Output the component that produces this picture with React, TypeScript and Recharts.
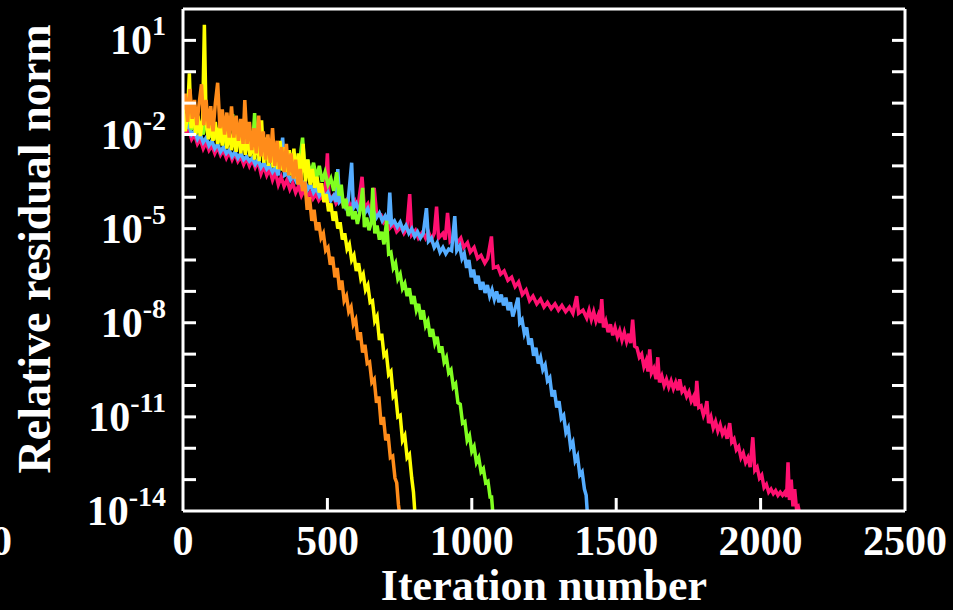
import React from 'react';
import { LineChart, Line, XAxis, YAxis } from 'recharts';

// [iteration, log10 of relative residual norm]
const pinkPts: [number, number][] = [
  [0, -1.6], [10, -1.9], [20, -1.85], [30, -2.15], [40, -2.0], [50, -2.3], [60, -2.15], [70, -2.45], [80, -2.25], [90, -2.5],
  [100, -2.35], [110, -2.6], [120, -2.4], [130, -2.65], [140, -2.5], [150, -2.75], [160, -2.55], [170, -2.8], [180, -2.6], [190, -2.85],
  [200, -2.7], [210, -2.95], [220, -2.75], [230, -3.0], [240, -2.8], [250, -3.05], [260, -2.85], [270, -3.25], [280, -3.0], [290, -3.3],
  [300, -3.1], [310, -3.45], [320, -3.2], [330, -3.6], [340, -3.35], [350, -3.65], [360, -3.45], [370, -3.75], [380, -3.55], [390, -3.85],
  [400, -3.65], [410, -3.95], [420, -3.75], [430, -4.0], [440, -3.85], [450, -4.05], [460, -3.9], [470, -4.1], [480, -3.95], [490, -4.15],
  [500, -2.6], [506, -4.1], [520, -3.95], [530, -4.2], [545, -4.0], [555, -4.25], [570, -4.05], [580, -4.3], [595, -4.1], [605, -4.35],
  [620, -3.35], [628, -4.35], [640, -4.2], [650, -4.5], [662, -3.7], [670, -4.5], [685, -4.55], [695, -4.8], [705, -4.7], [715, -5.0],
  [730, -4.85], [740, -5.1], [755, -4.95], [765, -5.15], [775, -5.0], [785, -3.9], [792, -5.2], [805, -5.05], [815, -5.3], [830, -5.1],
  [840, -5.3], [850, -5.1], [860, -5.35], [870, -5.15], [878, -4.3], [885, -5.3], [900, -5.15], [908, -5.35], [916, -4.5], [925, -5.4],
  [940, -5.25], [950, -5.45], [962, -5.3], [972, -5.6], [985, -5.45], [995, -5.75], [1008, -5.6], [1020, -5.95], [1032, -5.85], [1045, -6.1],
  [1055, -5.95], [1068, -5.25], [1075, -6.25], [1090, -6.2], [1100, -6.45], [1112, -6.35], [1125, -6.65], [1138, -6.55], [1150, -6.85], [1162, -6.7],
  [1175, -7.1], [1188, -6.95], [1200, -7.3], [1212, -7.15], [1225, -7.4], [1238, -7.25], [1250, -7.5], [1262, -7.35], [1275, -7.55], [1288, -7.4],
  [1300, -7.6], [1312, -7.45], [1325, -7.65], [1338, -7.5], [1350, -7.7], [1363, -7.15], [1370, -7.7], [1385, -7.6],
  [1398, -7.85], [1406, -7.6], [1414, -7.9], [1422, -7.65], [1430, -7.95], [1438, -7.75], [1444, -8.0], [1450, -7.25], [1456, -8.15], [1464, -7.95],
  [1472, -8.3], [1480, -8.05], [1488, -8.4], [1496, -8.15], [1504, -8.45], [1512, -8.25], [1520, -8.55], [1528, -8.3], [1536, -8.6], [1544, -8.35],
  [1550, -8.65], [1557, -7.9], [1564, -8.75], [1572, -8.8], [1580, -9.1], [1588, -9.0], [1596, -9.4], [1604, -9.2], [1610, -9.55], [1616, -8.85],
  [1622, -9.6], [1630, -9.45], [1638, -9.8], [1644, -9.1], [1650, -9.9], [1658, -9.7], [1666, -10.0], [1674, -9.8], [1682, -10.05], [1690, -9.85],
  [1698, -10.1], [1706, -9.9], [1714, -10.15], [1720, -9.8], [1728, -10.2], [1736, -10.1], [1744, -10.35], [1752, -10.2], [1760, -10.5], [1768, -10.35],
  [1774, -10.65], [1779, -9.85], [1786, -10.7], [1794, -10.65], [1802, -10.95], [1808, -10.8], [1814, -10.5], [1820, -11.2], [1828, -11.0], [1836, -11.35],
  [1844, -11.15], [1852, -11.45], [1860, -11.25], [1868, -11.55], [1876, -11.4], [1884, -11.7], [1893, -11.2], [1900, -11.8], [1908, -11.7], [1916, -12.05],
  [1924, -11.95], [1932, -12.3], [1940, -12.15], [1948, -12.45], [1956, -12.3], [1964, -12.6], [1973, -11.65], [1980, -12.7], [1988, -12.6], [1996, -12.95],
  [2004, -12.85], [2012, -13.25], [2020, -13.15], [2028, -13.4], [2036, -13.3], [2044, -13.45], [2052, -13.35], [2060, -13.5], [2068, -13.4], [2076, -13.5],
  [2084, -13.4], [2090, -13.55], [2095, -12.45], [2100, -13.65], [2106, -13.0], [2112, -13.85], [2118, -13.3], [2124, -13.9], [2130, -13.85], [2138, -14.2],
];

const bluePts: [number, number][] = [
  [0, -1.5], [10, -1.8], [20, -1.7], [30, -2.0], [40, -1.9], [50, -2.15], [60, -2.0], [70, -2.25], [80, -2.1], [90, -2.35],
  [100, -2.2], [110, -2.45], [120, -2.3], [130, -2.55], [140, -2.4], [150, -2.6], [160, -2.5], [170, -2.7], [180, -2.55], [190, -2.75],
  [200, -2.6], [210, -2.8], [220, -2.7], [230, -2.85], [240, -2.75], [250, -2.95], [260, -2.8], [270, -3.05], [280, -2.9], [290, -3.1],
  [300, -3.0], [310, -3.2], [320, -3.05], [330, -3.3], [345, -2.1], [352, -3.3], [362, -3.25], [372, -3.45], [382, -3.3], [392, -3.5],
  [402, -3.4], [412, -3.65], [422, -3.5], [432, -3.75], [442, -3.6], [452, -3.85], [462, -3.7], [472, -3.95], [482, -3.8], [492, -4.0],
  [502, -3.85], [512, -4.1], [522, -3.95], [530, -4.15], [536, -3.1], [542, -4.15], [552, -4.05], [562, -4.3], [572, -4.1], [584, -2.9],
  [590, -4.35], [600, -4.2], [610, -4.45], [620, -4.3], [630, -4.5], [640, -4.35], [650, -4.6], [660, -4.45], [670, -4.65], [680, -4.5],
  [690, -4.75], [700, -4.6], [710, -4.85], [716, -3.85], [722, -4.85], [732, -4.75], [742, -4.95], [752, -4.8], [762, -5.05], [772, -4.9],
  [782, -5.15], [792, -5.0], [802, -5.25], [812, -5.1], [822, -5.3], [832, -5.15], [843, -4.35], [850, -5.4], [860, -5.3], [870, -5.6],
  [880, -5.45], [890, -5.75], [900, -5.6], [910, -5.8], [920, -5.65], [930, -5.7], [941, -4.6], [948, -5.7],
  [958, -5.55], [966, -5.95], [974, -5.8], [982, -6.25], [990, -6.0], [998, -6.55], [1006, -6.3], [1014, -6.75], [1022, -6.5], [1030, -6.95],
  [1038, -6.7], [1046, -7.05], [1054, -6.8], [1062, -7.15], [1070, -6.95], [1078, -7.25], [1086, -7.0], [1094, -7.35], [1102, -7.1], [1110, -7.45],
  [1118, -7.2], [1126, -7.6], [1134, -7.35], [1142, -7.8], [1150, -7.55], [1160, -7.2], [1166, -8.0], [1174, -7.9], [1182, -8.35], [1190, -8.15],
  [1198, -8.7], [1206, -8.5], [1214, -9.05], [1222, -8.8], [1230, -9.3], [1238, -9.1], [1246, -9.5], [1254, -9.35], [1262, -9.85], [1270, -9.75],
  [1278, -10.35], [1286, -10.15], [1294, -10.7], [1302, -10.5], [1310, -11.05], [1318, -10.95], [1326, -11.5], [1334, -11.35], [1342, -11.95], [1350, -11.8],
  [1358, -12.4], [1366, -12.25], [1374, -12.85], [1382, -12.75], [1390, -13.3], [1396, -13.5], [1401, -14.2],
];

const greenPts: [number, number][] = [
  [0, -1.3], [10, -1.7], [20, -1.45], [30, -1.85], [40, -1.5], [50, -1.95], [60, -1.6], [70, -2.0], [80, -1.55], [90, -2.1],
  [100, -1.7], [110, -2.15], [120, -1.8], [130, -2.25], [140, -1.75], [150, -2.35], [160, -1.9], [172, -1.35], [180, -2.4], [190, -2.0],
  [200, -2.45], [210, -2.05], [220, -2.5], [230, -2.1], [240, -2.55], [248, -1.32], [256, -2.6], [266, -2.2], [276, -2.65], [286, -2.3],
  [296, -2.7], [306, -2.35], [316, -2.8], [326, -2.4], [336, -2.85], [346, -2.5], [356, -2.9], [366, -2.55], [376, -3.0], [386, -2.6],
  [396, -3.1], [406, -2.7], [414, -2.1], [422, -3.2], [432, -2.8], [442, -3.3], [452, -2.9], [462, -3.4], [472, -3.0], [482, -3.5],
  [492, -3.2], [502, -3.6], [512, -3.4], [522, -3.8], [532, -3.2],
  [540, -3.95], [548, -3.6], [556, -4.35], [564, -4.05], [572, -4.6], [580, -4.3], [588, -4.7], [596, -4.45], [604, -4.85], [612, -4.5],
  [622, -3.7], [628, -4.95], [636, -4.65], [644, -5.05], [652, -4.8], [657, -3.7], [664, -5.15], [672, -4.9], [680, -5.35], [688, -5.1],
  [696, -5.5], [705, -4.75], [712, -5.8], [720, -5.75], [728, -6.25], [736, -6.1], [744, -6.6], [752, -6.45], [760, -6.9], [768, -6.75],
  [776, -7.15], [784, -6.9], [792, -7.4], [800, -7.15], [808, -7.6], [816, -7.4], [824, -7.9], [832, -7.6], [840, -8.1], [848, -7.95],
  [856, -8.45], [864, -8.2], [872, -8.65], [880, -8.45], [888, -8.95], [896, -8.75], [904, -9.25], [912, -9.1], [920, -9.6], [928, -9.5],
  [936, -10.05], [944, -9.95], [952, -10.55], [960, -10.6], [968, -11.2], [976, -11.15], [984, -11.75], [992, -11.6], [1000, -12.1], [1008, -11.95],
  [1016, -12.45], [1024, -12.3], [1032, -12.75], [1040, -12.65], [1048, -13.1], [1056, -13.05], [1064, -13.6], [1068, -13.5], [1074, -14.2],
];

const yellowPts: [number, number][] = [
  [0, -1.0], [8, -1.9], [16, -1.3], [22, -0.05], [28, -1.8], [36, -1.2], [44, -2.0], [52, -1.4], [60, -2.05], [68, -1.5],
  [74, 1.5], [80, -1.6], [88, -2.15], [96, -1.5], [104, -2.2], [112, -1.6], [120, -2.3], [128, -1.7], [136, -2.35], [144, -1.6],
  [152, -2.45], [160, -1.8], [168, -2.5], [176, -1.9], [184, -2.55], [192, -1.7], [200, -2.6], [208, -2.0], [216, -2.65], [224, -1.9],
  [232, -2.7], [240, -2.1], [248, -2.8], [256, -2.0], [264, -2.85], [272, -1.55], [280, -2.9], [288, -2.1], [296, -3.0], [304, -2.2],
  [312, -3.05], [320, -2.3], [328, -3.1], [336, -2.2], [344, -3.15], [352, -2.4], [360, -3.2], [368, -2.5], [376, -3.3], [384, -2.45],
  [392, -3.4], [400, -2.6], [408, -3.45], [416, -2.3], [424, -3.5], [432, -2.8],
  [440, -3.6], [448, -3.1], [456, -3.7], [464, -3.35], [472, -3.85], [480, -3.55], [488, -4.15], [496, -3.9], [504, -4.45], [512, -4.2],
  [520, -4.75], [528, -4.45], [536, -5.0], [544, -4.8], [552, -5.35], [560, -5.15], [568, -5.65], [576, -5.5], [584, -6.0], [592, -5.85],
  [600, -6.35], [608, -6.1], [616, -6.6], [624, -6.45], [632, -6.95], [640, -6.8], [648, -7.35], [656, -7.3], [664, -7.95], [672, -7.8],
  [680, -8.55], [688, -8.35], [696, -9.05], [704, -8.95], [712, -9.65], [720, -9.55], [728, -10.35], [736, -10.25], [744, -11.0], [752, -10.95],
  [760, -11.75], [768, -11.6], [776, -12.3], [784, -12.2], [792, -12.95], [798, -13.4], [804, -14.2],
];

const orangePts: [number, number][] = [
  [0, -1.2], [8, -0.7], [16, -1.6], [24, -0.55], [32, -1.5], [40, -0.9], [48, -1.7], [56, -1.0], [64, -0.4], [72, -1.7],
  [80, -0.9], [88, -1.8], [96, -1.1], [104, -1.9], [112, -1.0], [120, -0.35], [128, -1.8], [136, -1.2], [144, -2.0], [152, -1.3],
  [160, -2.1], [168, -1.1], [176, -2.1], [184, -1.4], [192, -2.2], [200, -1.5], [208, -2.3], [214, -0.9], [222, -2.3], [230, -1.6],
  [238, -2.5], [246, -1.8], [254, -2.6], [262, -1.4], [270, -2.7], [278, -1.9], [286, -2.8], [294, -2.0], [302, -2.9], [310, -1.8],
  [318, -3.0], [326, -2.2], [334, -3.1], [342, -2.4], [350, -3.2], [358, -2.3], [366, -3.3], [374, -2.6], [382, -3.4], [390, -2.8],
  [398, -3.6],
  [406, -3.1], [414, -3.8], [422, -3.5], [430, -4.4], [438, -4.0], [446, -4.75], [454, -4.4], [462, -5.05], [470, -4.8], [478, -5.3],
  [486, -5.15], [494, -5.7], [502, -5.6], [510, -6.15], [518, -5.9], [526, -6.55], [534, -6.25], [542, -6.95], [550, -6.65], [558, -7.3],
  [566, -7.15], [574, -7.65], [582, -7.5], [590, -8.05], [598, -7.9], [606, -8.55], [614, -8.3], [622, -8.95], [630, -8.7], [638, -9.3],
  [646, -9.25], [654, -9.9], [662, -9.8], [670, -10.55], [678, -10.35], [686, -11.25], [694, -11.0], [702, -11.75], [710, -11.55], [718, -12.3],
  [726, -12.25], [734, -12.95], [740, -13.1], [746, -13.8], [752, -14.2],
];

const xTicks = [0, 500, 1000, 1500, 2000, 2500];
const xInnerTicks = [500, 1000, 1500, 2000];
const yExps = [-14, -13, -12, -11, -10, -9, -8, -7, -6, -5, -4, -3, -2, -1, 0, 1];
const yLabelExps = [-14, -11, -8, -5, -2, 1];

const FONT = '"Liberation Serif", "Times New Roman", serif';
const WHITE = '#ffffff';
const TICK_LEN = 13;

const yTicks = yExps.map((e) => Math.pow(10, e));
const toRows = (pts: [number, number][]) => pts.map(([x, e]) => ({ x, y: Math.pow(10, e) }));

const series = [
  { name: 'pink', color: '#ff1070', pts: pinkPts },
  { name: 'blue', color: '#55adff', pts: bluePts },
  { name: 'green', color: '#80ff20', pts: greenPts },
  { name: 'yellow', color: '#ffff00', pts: yellowPts },
  { name: 'orange', color: '#ff8c1a', pts: orangePts },
];

const LeftTick = (p: any) => {
  const e = Math.round(Math.log10(p.payload.value));
  return (
    <g>
      {e > -14 && <line x1={p.x} x2={p.x + TICK_LEN} y1={p.y} y2={p.y} stroke={WHITE} strokeWidth={3} />}
      {yLabelExps.includes(e) && (
        <text x={p.x - 17} y={p.y + 14} textAnchor="end" fill={WHITE} fontFamily={FONT} fontWeight="bold" fontSize={42}>
          10
          <tspan dy={-19} fontSize={28}>{String(e)}</tspan>
        </text>
      )}
    </g>
  );
};

const RightTick = (p: any) => {
  const e = Math.round(Math.log10(p.payload.value));
  if (e <= -14) return <g />;
  return <line x1={p.x - TICK_LEN} x2={p.x} y1={p.y} y2={p.y} stroke={WHITE} strokeWidth={3} />;
};

const BottomTick = (p: any) => {
  const v = p.payload.value;
  return (
    <g>
      {xInnerTicks.includes(v) && <line x1={p.x} x2={p.x} y1={p.y} y2={p.y - TICK_LEN} stroke={WHITE} strokeWidth={3} />}
      <text x={p.x} y={p.y + 44} textAnchor="middle" fill={WHITE} fontFamily={FONT} fontWeight="bold" fontSize={42}>
        {String(v)}
      </text>
    </g>
  );
};

const TopTick = (p: any) => (
  <line x1={p.x} x2={p.x} y1={p.y} y2={p.y + TICK_LEN} stroke={WHITE} strokeWidth={3} />
);

const YTitle = (props: any) => {
  const vb = props.viewBox || { x: 0, y: 9, width: 183, height: 502 };
  const cx = vb.x + 50;
  const cy = vb.y + vb.height / 2 - 11;
  return (
    <g>
      <text x={cx} y={cy} transform={`rotate(-90 ${cx} ${cy})`} textAnchor="middle" fill={WHITE} fontFamily={FONT} fontWeight="bold" fontSize={46}>
        Relative residual norm
      </text>
      {/* tick label of a neighbouring panel, cut by the left edge */}
      <text x={vb.x + 12} y={vb.y + vb.height + 44} textAnchor="end" fill={WHITE} fontFamily={FONT} fontWeight="bold" fontSize={42}>
        2500
      </text>
    </g>
  );
};

const XTitle = (props: any) => {
  const vb = props.viewBox || { x: 183, y: 511, width: 722, height: 99 };
  return (
    <text x={vb.x + vb.width / 2} y={vb.y + 89} textAnchor="middle" fill={WHITE} fontFamily={FONT} fontWeight="bold" fontSize={44}>
      Iteration number
    </text>
  );
};

const axisLine = { stroke: WHITE, strokeWidth: 3 };

const App: React.FC = () => {
  return (
    <div style={{ position: 'absolute', left: 0, top: 0, width: 953, height: 610, background: '#000' }}>
      <LineChart width={953} height={610} margin={{ top: 0, right: 0, bottom: 0, left: 0 }}>
        <XAxis
          xAxisId="b" type="number" dataKey="x" domain={[0, 2500]} allowDataOverflow
          ticks={xTicks} interval={0} height={99} axisLine={axisLine} tickLine={false}
          tickSize={0} tickMargin={0} tick={BottomTick} label={XTitle}
        />
        <XAxis
          xAxisId="t" orientation="top" type="number" domain={[0, 2500]} allowDataOverflow
          ticks={xInnerTicks} interval={0} height={9} axisLine={axisLine} tickLine={false}
          tickSize={0} tickMargin={0} tick={TopTick}
        />
        <YAxis
          yAxisId="l" type="number" scale="log" domain={[1e-14, 100]} allowDataOverflow
          ticks={yTicks} interval={0} width={183} axisLine={axisLine} tickLine={false}
          tickSize={0} tickMargin={0} tick={LeftTick} label={YTitle}
        />
        <YAxis
          yAxisId="r" orientation="right" type="number" scale="log" domain={[1e-14, 100]} allowDataOverflow
          ticks={yTicks} interval={0} width={48} axisLine={axisLine} tickLine={false}
          tickSize={0} tickMargin={0} tick={RightTick}
        />
        {series.map((s) => (
          <Line
            key={s.name}
            xAxisId="b"
            yAxisId="l"
            data={toRows(s.pts)}
            dataKey="y"
            type="linear"
            stroke={s.color}
            strokeWidth={3.5}
            dot={false}
            activeDot={false}
            isAnimationActive={false}
          />
        ))}
      </LineChart>
    </div>
  );
};

export default App;
